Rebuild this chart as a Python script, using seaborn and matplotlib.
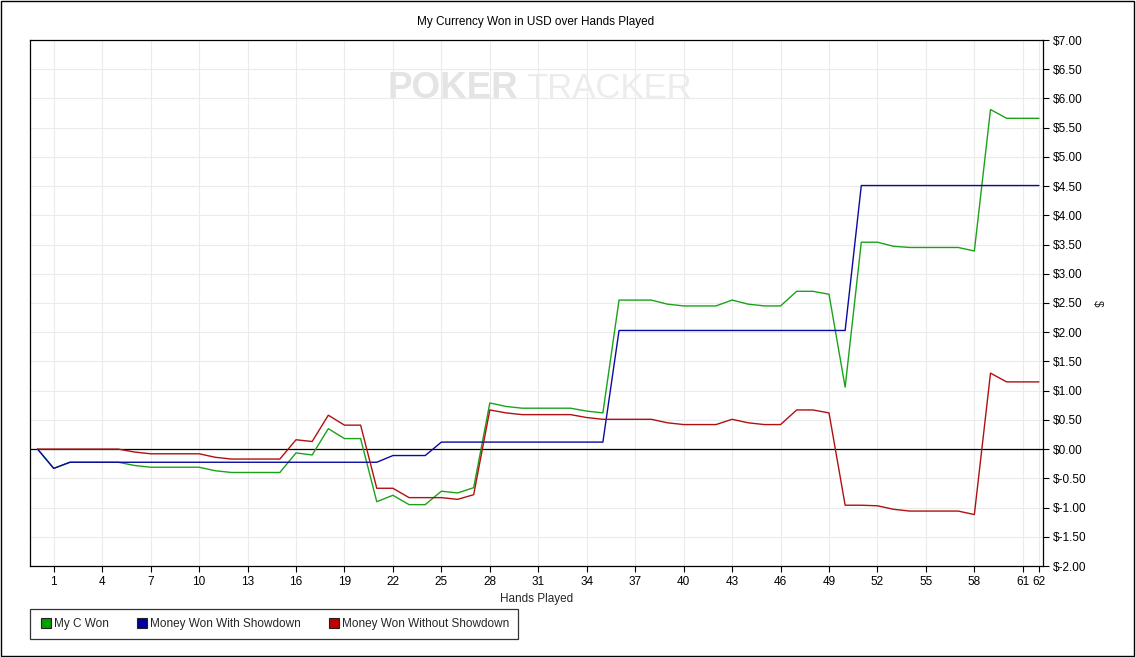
import numpy as np
import pandas as pd
import seaborn as sns
import matplotlib
matplotlib.use("Agg")
import matplotlib.pyplot as plt
from matplotlib.lines import Line2D
from matplotlib.patches import Rectangle

# ---------------- data ----------------
hands = list(range(0, 63))

my_c_won = [0.00, -0.33, -0.225, -0.225, -0.225, -0.225, -0.28, -0.31, -0.31, -0.31,
            -0.31, -0.37, -0.40, -0.40, -0.40, -0.40, -0.065, -0.10, 0.35, 0.18,
            0.18, -0.90, -0.79, -0.95, -0.95, -0.72, -0.75, -0.66, 0.79, 0.73,
            0.70, 0.70, 0.70, 0.70, 0.65, 0.62, 2.55, 2.55, 2.55, 2.48,
            2.45, 2.45, 2.45, 2.55, 2.48, 2.45, 2.45, 2.70, 2.70, 2.65,
            1.06, 3.54, 3.54, 3.47, 3.45, 3.45, 3.45, 3.45, 3.39, 5.81,
            5.66, 5.66, 5.66]

won_with_showdown = [0.00, -0.33, -0.225, -0.225, -0.225, -0.225, -0.225, -0.225, -0.225, -0.225,
                     -0.225, -0.225, -0.225, -0.225, -0.225, -0.225, -0.225, -0.225, -0.225, -0.225,
                     -0.225, -0.225, -0.11, -0.11, -0.11, 0.12, 0.12, 0.12, 0.12, 0.12,
                     0.12, 0.12, 0.12, 0.12, 0.12, 0.12, 2.03, 2.03, 2.03, 2.03,
                     2.03, 2.03, 2.03, 2.03, 2.03, 2.03, 2.03, 2.03, 2.03, 2.03,
                     2.03, 4.51, 4.51, 4.51, 4.51, 4.51, 4.51, 4.51, 4.51, 4.51,
                     4.51, 4.51, 4.51]

won_without_showdown = [0.00, 0.00, 0.00, 0.00, 0.00, 0.00, -0.05, -0.08, -0.08, -0.08,
                        -0.08, -0.14, -0.17, -0.17, -0.17, -0.17, 0.16, 0.13, 0.58, 0.41,
                        0.41, -0.67, -0.67, -0.83, -0.83, -0.83, -0.86, -0.78, 0.67, 0.62,
                        0.59, 0.59, 0.59, 0.59, 0.54, 0.51, 0.51, 0.51, 0.51, 0.45,
                        0.42, 0.42, 0.42, 0.51, 0.45, 0.42, 0.42, 0.67, 0.67, 0.62,
                        -0.96, -0.96, -0.97, -1.03, -1.06, -1.06, -1.06, -1.06, -1.12, 1.30,
                        1.15, 1.15, 1.15]

series_names = ["My C Won", "Money Won With Showdown", "Money Won Without Showdown"]
line_colors = ["#1aa31a", "#0a0aa0", "#b01010"]
legend_colors = ["#00a000", "#0000a0", "#c00000"]

x_ticks = [1, 4, 7, 10, 13, 16, 19, 22, 25, 28, 31, 34, 37, 40, 43, 46, 49, 52, 55, 58, 61, 62]
y_ticks = [-2.0, -1.5, -1.0, -0.5, 0.0, 0.5, 1.0, 1.5, 2.0, 2.5, 3.0, 3.5, 4.0, 4.5, 5.0, 5.5, 6.0, 6.5, 7.0]

# ---------------- build table ----------------
df = pd.concat([
    pd.DataFrame({"hand": hands, "value": my_c_won, "series": series_names[0]}),
    pd.DataFrame({"hand": hands, "value": won_with_showdown, "series": series_names[1]}),
    pd.DataFrame({"hand": hands, "value": won_without_showdown, "series": series_names[2]}),
])

# ---------------- style ----------------
sns.set_theme(style="white")
plt.rcParams["font.family"] = ["Liberation Sans", "DejaVu Sans"]
plt.rcParams["font.size"] = 8.5

W, H = 1136, 657
fig = plt.figure(figsize=(W / 100, H / 100), dpi=100)
fig.patch.set_facecolor("white")
ax = fig.add_axes([30 / W, 1 - 566 / H, (1043 - 30) / W, (566 - 40) / H])
ax.set_facecolor("white")

# grid
for yt in y_ticks:
    ax.axhline(yt, color="#ebebeb", lw=0.8, zorder=0)
for xt in x_ticks:
    ax.axvline(xt, color="#ebebeb", lw=0.8, zorder=0)

# watermark
fig.text(388 / W, 1 - 89 / H, "POKER", fontsize=26.5, fontweight="bold",
         color="#e4e4e4", ha="left", va="center", zorder=0.5)
fig.text(526 / W, 1 - 89 / H, "TRACKER", fontsize=25, color="#ececec",
         ha="left", va="center", zorder=0.5)

ax.axhline(0, color="black", lw=0.9, zorder=1)

sns.lineplot(data=df, x="hand", y="value", hue="series", hue_order=series_names,
             palette=line_colors, linewidth=1.0, legend=False, ax=ax, zorder=3)

ax.set_xlim(-0.47, 62.25)
ax.set_ylim(-2.0, 7.0)
ax.set_xticks(x_ticks)
ax.set_xticklabels([str(t) for t in x_ticks])
ax.set_yticks(y_ticks)
ax.set_yticklabels([f"${v:.2f}" for v in y_ticks])
ax.yaxis.tick_right()
ax.yaxis.set_label_position("right")
ax.tick_params(axis="both", which="both", direction="out", length=4, width=0.8,
               color="black", labelsize=8.5, labelcolor="black", pad=3)
ax.tick_params(axis="x", bottom=True, top=False)
ax.tick_params(axis="y", right=True, left=False)
ax.set_xlabel("Hands Played", fontsize=8.5, labelpad=4)
ax.set_ylabel("$", fontsize=8.5, rotation=270, labelpad=12)

for s in ax.spines.values():
    s.set_visible(True)
    s.set_color("black")
    s.set_linewidth(0.9)

# title
fig.text(536 / W, 1 - 22 / H, "My Currency Won in USD over Hands Played", ha="center", va="center",
         fontsize=8.5, color="black")

# legend
handles = [Line2D([0], [0], marker="s", linestyle="none", markersize=7,
                  markerfacecolor=c, markeredgecolor="#222222", markeredgewidth=0.8)
           for c in legend_colors]
leg = fig.legend(handles, series_names, loc="center left", bbox_to_anchor=(24 / W, 1 - 624 / H),
                 ncol=3, frameon=True, fancybox=False, fontsize=8.5, handletextpad=0.1,
                 columnspacing=2.2, borderpad=0.75, handlelength=1.2)
leg.get_frame().set_edgecolor("black")
leg.get_frame().set_linewidth(0.9)

# outer border
fig.add_artist(Rectangle((0.0005, 0.0008), 0.998, 0.998, transform=fig.transFigure,
                         fill=False, edgecolor="black", linewidth=1.0))

fig.savefig("out.png", dpi=100, facecolor="white")
